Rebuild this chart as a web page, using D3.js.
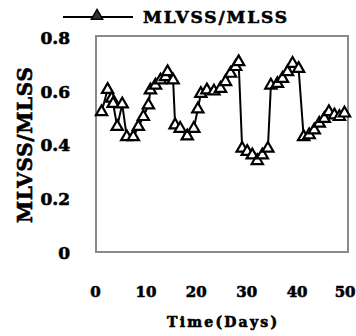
<!DOCTYPE html>
<html>
<head>
<meta charset="utf-8">
<script src="https://cdn.jsdelivr.net/npm/d3@7"></script>
<style>
  body { margin: 0; background: #fff; }
  text { font-family: "DejaVu Serif", serif; font-weight: bold; fill: #000; stroke: #000; stroke-width: 0.6px; }
</style>
</head>
<body>
<div id="chart"></div>
<script>
// sampling days and MLVSS/MLSS ratio
const days = [1.3, 2.5, 3.3, 3.6, 4.4, 5.4, 6.3, 7.6, 8.6, 9.6, 10.6, 11, 12, 13, 14, 14.4, 15.5,
  15.9, 16.9, 18.3, 19.6, 20.4, 21, 22.2, 23.6, 24.9, 25.9, 26.9, 27.9, 28.5,
  29.2, 30.2, 31.2, 32.2, 33.2, 34.3, 34.9, 36.2, 37.2, 38.2, 39.2, 40.4,
  41.4, 42.5, 43.5, 44.5, 45.5, 46.4, 47.5, 48.5, 49.5];
const ratio = [0.525, 0.608, 0.575, 0.556, 0.47, 0.554, 0.432, 0.432, 0.47, 0.507, 0.55, 0.606, 0.624, 0.643, 0.655, 0.674, 0.643,
  0.476, 0.463, 0.435, 0.463, 0.535, 0.593, 0.606, 0.602, 0.612, 0.637, 0.668, 0.693, 0.711,
  0.389, 0.377, 0.364, 0.343, 0.364, 0.389, 0.624, 0.63, 0.649, 0.674, 0.705, 0.686,
  0.432, 0.439, 0.457, 0.482, 0.5, 0.525, 0.513, 0.507, 0.52];
const xTicks = [0, 10, 20, 30, 40, 50];
const yTicks = [0, 0.2, 0.4, 0.6, 0.8];
const seriesName = "MLVSS/MLSS";

const width = 356, height = 336;
const svg = d3.select("#chart").append("svg")
  .attr("width", width)
  .attr("height", height);

const x = d3.scaleLinear().domain([0, 50]).range([95, 347]);
const y = d3.scaleLinear().domain([0, 0.8]).range([253, 38]);

// plot frame
svg.append("rect")
  .attr("x", 96).attr("y", 36)
  .attr("width", 252).attr("height", 216)
  .attr("fill", "none")
  .attr("stroke", "#8a8a8a")
  .attr("stroke-width", 2);

// Y axis labels
const yAxis = svg.append("g")
  .attr("transform", "translate(70,0)")
  .call(d3.axisLeft(y).tickValues(yTicks).tickSize(0).tickPadding(0)
    .tickFormat(d => d === 0 ? "0" : d3.format(".1f")(d)));
yAxis.select(".domain").remove();
yAxis.selectAll("text")
  .attr("font-family", "DejaVu Serif")
  .attr("font-weight", "bold")
  .attr("font-size", 17);

// X axis labels
const xAxis = svg.append("g")
  .attr("transform", "translate(0,286)")
  .call(d3.axisBottom(x).tickValues(xTicks).tickSize(0).tickPadding(0));
xAxis.select(".domain").remove();
xAxis.selectAll("text")
  .attr("font-family", "DejaVu Serif")
  .attr("font-weight", "bold")
  .attr("font-size", 15);
// keep the last label inside the window
xAxis.selectAll("text").filter(d => d === 50)
  .attr("text-anchor", "end")
  .attr("x", 8);

// axis titles
svg.append("text")
  .attr("x", 222).attr("y", 327)
  .attr("text-anchor", "middle")
  .attr("font-size", 14)
  .attr("textLength", 110)
  .text("Time(Days)");

svg.append("text")
  .attr("transform", "translate(32,145)rotate(-90)")
  .attr("text-anchor", "middle")
  .attr("font-size", 20)
  .attr("textLength", 156)
  .text(seriesName);

// series line
const pts = days.map((d, i) => [d, ratio[i]]);
svg.append("path")
  .datum(pts)
  .attr("fill", "none")
  .attr("stroke", "#000")
  .attr("stroke-width", 2)
  .attr("d", d3.line().x(d => x(d[0])).y(d => y(d[1])));

const tri = d3.symbol().type(d3.symbolTriangle).size(55);
svg.selectAll(".pt")
  .data(pts)
  .enter().append("path")
  .attr("class", "pt")
  .attr("transform", d => `translate(${x(d[0])},${y(d[1])})`)
  .attr("d", tri)
  .attr("fill", "#fff")
  .attr("stroke", "#000")
  .attr("stroke-width", 2.2);

// legend
const lg = svg.append("g");
lg.append("line")
  .attr("x1", 63).attr("x2", 133)
  .attr("y1", 17).attr("y2", 17)
  .attr("stroke", "#000").attr("stroke-width", 2);
lg.append("path")
  .attr("transform", "translate(97,16)")
  .attr("d", tri)
  .attr("fill", "#333")
  .attr("stroke", "#000")
  .attr("stroke-width", 1.5);
lg.append("text")
  .attr("x", 143).attr("y", 23)
  .attr("font-size", 17)
  .attr("textLength", 144)
  .text(seriesName);
</script>
</body>
</html>
